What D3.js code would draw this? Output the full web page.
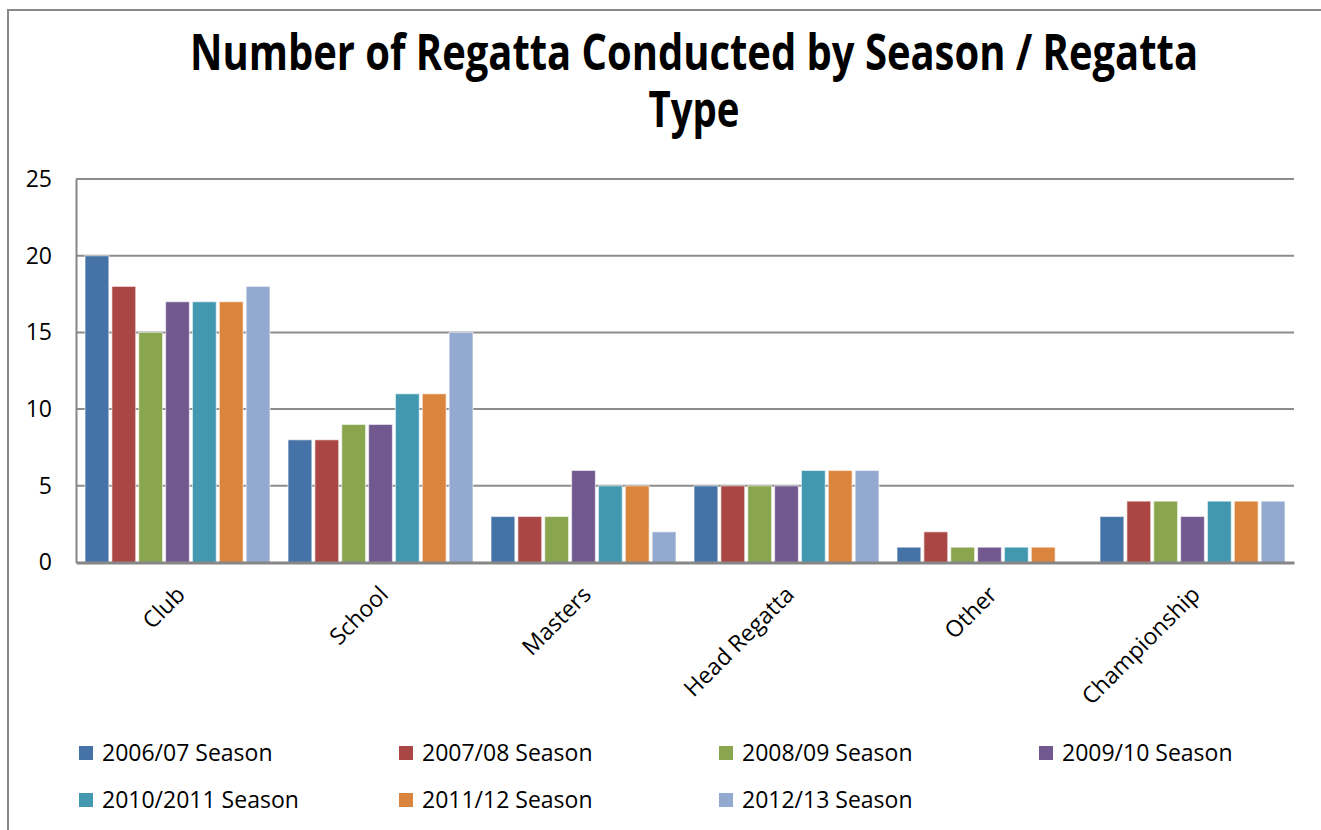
<!DOCTYPE html>
<meta charset="utf-8">

<!-- Load d3.js -->
<script src="https://d3js.org/d3.v7.min.js"></script>

<style>
  body { margin: 0; background: #fff; }
  text { font-family: "Open Sans", "DejaVu Sans", sans-serif; }
</style>

<!-- Create a div where the graph will take place -->
<div id="vis"></div>

<script>

// data
var categories = ["Club", "School", "Masters", "Head Regatta", "Other", "Championship"];
var seasons = ["2006/07 Season", "2007/08 Season", "2008/09 Season", "2009/10 Season",
               "2010/2011 Season", "2011/12 Season", "2012/13 Season"];
var s0607 = [20, 8, 3, 5, 1, 3];
var s0708 = [18, 8, 3, 5, 2, 4];
var s0809 = [15, 9, 3, 5, 1, 4];
var s0910 = [17, 9, 6, 5, 1, 3];
var s1011 = [17, 11, 5, 6, 1, 4];
var s1112 = [17, 11, 5, 6, 1, 4];
var s1213 = [18, 15, 2, 6, 0, 4];
var yTicks = [0, 5, 10, 15, 20, 25];
var colors = ["#4572A7", "#AA4643", "#89A54E", "#71588F", "#4198AF", "#DB843D", "#93A9CF"];

var seriesValues = [s0607, s0708, s0809, s0910, s1011, s1112, s1213];

var W = 1321, H = 830;
var plot = {left: 76, right: 1294, top: 179, bottom: 562.5};

var svg = d3.select("#vis")
  .append("svg")
    .attr("width", W)
    .attr("height", H);

// outer chart frame (top + left edges visible)
svg.append("path")
  .attr("d", "M8,830 L8,10 L1321,10")
  .attr("fill", "none")
  .attr("stroke", "#888")
  .attr("stroke-width", 2);

// title, squeezed to the width of the original
var title = svg.append("g")
  .style("font-family", "'Open Sans', sans-serif")
  .style("font-weight", "bold")
  .style("font-size", "44px");
title.append("text")
  .attr("transform", "translate(694,70) scale(1,1.14)")
  .attr("text-anchor", "middle")
  .attr("textLength", 1008)
  .attr("lengthAdjust", "spacingAndGlyphs")
  .text("Number of Regatta Conducted by Season / Regatta");
title.append("text")
  .attr("transform", "translate(694,127) scale(1,1.14)")
  .attr("text-anchor", "middle")
  .attr("textLength", 91)
  .attr("lengthAdjust", "spacingAndGlyphs")
  .text("Type");

// scales
var x0 = d3.scaleBand()
  .domain(categories)
  .range([plot.left, plot.right])
  .paddingInner(0.074)
  .paddingOuter(0.037);

var x1 = d3.scaleBand()
  .domain(d3.range(seasons.length))
  .range([0, x0.bandwidth()]);

var y = d3.scaleLinear()
  .domain([0, 25])
  .range([plot.bottom, plot.top]);

// gridlines
svg.append("g")
  .selectAll("line")
  .data(yTicks.filter(function(d) { return d > 0; }))
  .enter()
  .append("line")
    .attr("x1", plot.left).attr("x2", plot.right)
    .attr("y1", function(d) { return y(d); })
    .attr("y2", function(d) { return y(d); })
    .attr("stroke", "#8c8c8c")
    .attr("stroke-width", 2);

// Y axis
var yAxis = svg.append("g")
  .attr("transform", "translate(" + plot.left + ",0)")
  .call(d3.axisLeft(y).tickValues(yTicks).tickSize(0).tickPadding(24));
yAxis.select(".domain").attr("stroke", "#868686").attr("stroke-width", 2);
yAxis.selectAll("text")
  .style("font-family", "'Open Sans', sans-serif")
  .style("font-size", "23px")
  .attr("fill", "#000");

// bars
var groups = svg.append("g")
  .selectAll("g")
  .data(categories)
  .enter()
  .append("g")
    .attr("transform", function(d) { return "translate(" + x0(d) + ",0)"; });

groups.selectAll("rect")
  .data(function(c, ci) {
    return seriesValues.map(function(vals, si) { return {si: si, v: vals[ci]}; });
  })
  .enter()
  .append("rect")
    .attr("x", function(d) { return x1(d.si) + 1.5; })
    .attr("width", x1.bandwidth() - 3)
    .attr("y", function(d) { return y(d.v); })
    .attr("height", function(d) { return y(0) - y(d.v); })
    .attr("fill", function(d) { return colors[d.si]; })
    .attr("stroke", "#fff")
    .attr("stroke-opacity", 0.55)
    .attr("stroke-width", 1.2)
    .style("display", function(d) { return d.v > 0 ? null : "none"; });

// X axis
var xAxis = svg.append("g")
  .attr("transform", "translate(0," + plot.bottom + ")")
  .call(d3.axisBottom(x0).tickSize(0).tickFormat(""));
xAxis.select(".domain").attr("stroke", "#868686").attr("stroke-width", 3);

// rotated category labels
svg.append("g")
  .selectAll("text")
  .data(categories)
  .enter()
  .append("text")
    .attr("transform", function(d) {
      return "translate(" + (x0(d) + x0.bandwidth() / 2 + 9) + ",596) rotate(-45)";
    })
    .attr("text-anchor", "end")
    .style("font-size", "23px")
    .attr("fill", "#000")
    .text(function(d) { return d; });

// legend, 4 columns x 2 rows
var legend = svg.append("g")
  .selectAll("g")
  .data(seasons)
  .enter()
  .append("g")
    .attr("transform", function(d, i) {
      return "translate(" + (79 + (i % 4) * 320) + "," + (753 + Math.floor(i / 4) * 47) + ")";
    });

legend.append("rect")
  .attr("x", 0).attr("y", -7)
  .attr("width", 14).attr("height", 14)
  .attr("fill", function(d, i) { return colors[i]; });

legend.append("text")
  .attr("x", 23).attr("y", 0)
  .attr("dy", "0.36em")
  .style("font-size", "23px")
  .attr("fill", "#000")
  .text(function(d) { return d; });

</script>
